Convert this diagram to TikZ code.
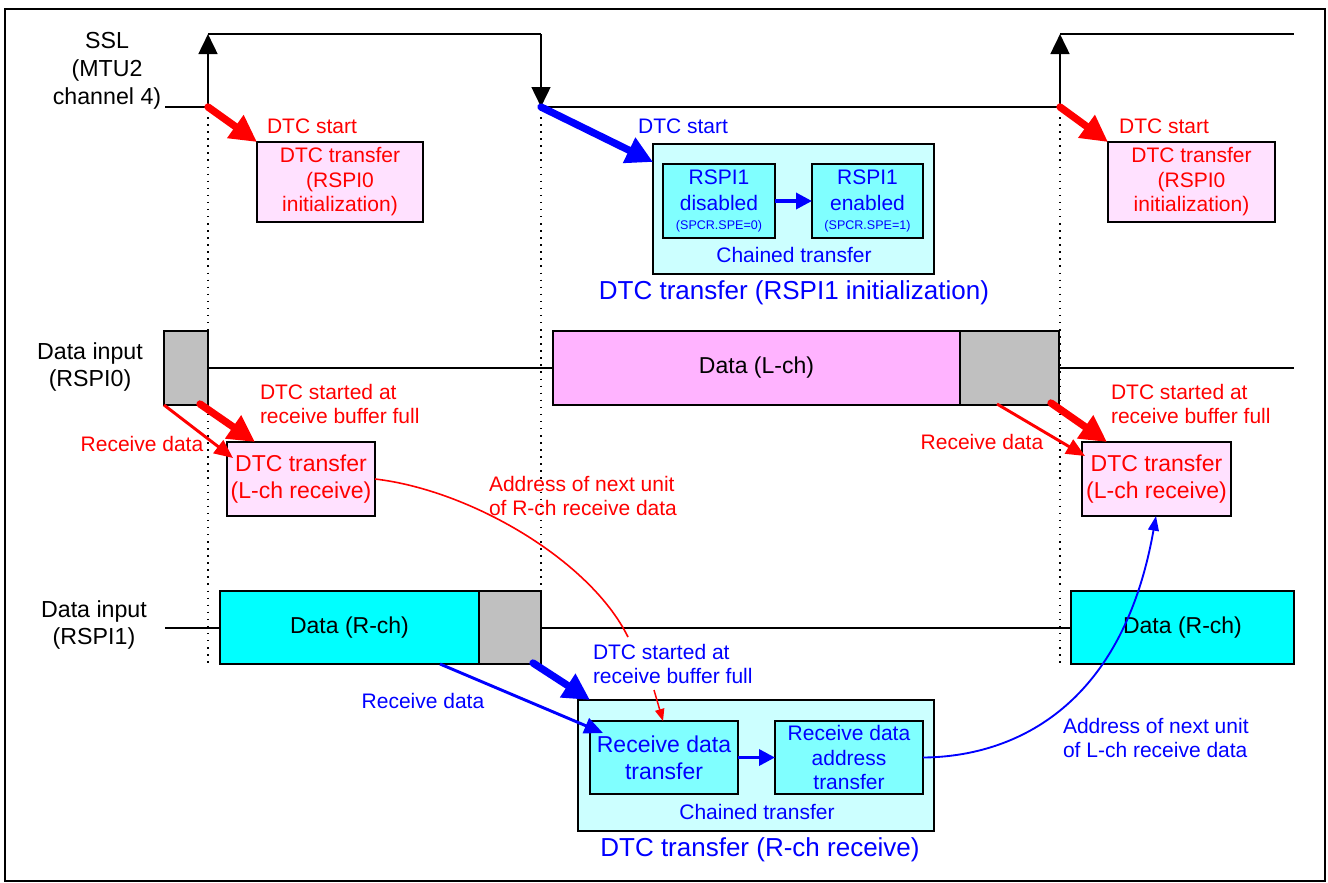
\documentclass[tikz,border=0pt]{standalone}
\usepackage{fontspec}
\setmainfont{Liberation Sans}
\usetikzlibrary{arrows.meta,calc}
\definecolor{pinkl}{HTML}{FFE1FF}
\definecolor{pinkd}{HTML}{FFB3FF}
\definecolor{cyanl}{HTML}{CCFFFF}
\definecolor{cyanm}{HTML}{80FFFF}
\definecolor{grayb}{HTML}{C0C0C0}
\definecolor{cyanf}{HTML}{00FFFF}
\begin{document}
\begin{tikzpicture}[x=0.75pt,y=-0.75pt,
  every node/.style={inner sep=0pt, outer sep=0pt},
  fa/.style={font=\fontsize{15.75}{18.4}\selectfont},
  fb/.style={font=\fontsize{17.25}{20.25}\selectfont},
  fc/.style={font=\fontsize{19.5}{23}\selectfont},
  lab/.style={font=\fontsize{17.4}{20.8}\selectfont, align=center},
  boxst/.style={draw=black, line width=1.4pt, align=center},
  sz/.style 2 args={minimum width=#1pt, minimum height=#2pt},
  sig/.style={line width=2pt, line join=miter},
  sigarr/.style={line width=2pt, -{Triangle[length=15pt,width=14pt]}},
  dline/.style={line width=1.5pt},
  vdot/.style={line width=1.1pt, dash pattern=on 1.1pt off 4.2pt},
  bigarr/.style={line width=5.5pt, line cap=round, -{Triangle[length=20pt,width=20pt]}},
  thinarr/.style={line width=2.2pt, -{Triangle[length=14pt,width=12pt]}},
  midarr/.style={line width=2.6pt, -{Triangle[length=12pt,width=12pt]}},
  smallarr/.style={line width=1.1pt, -{Triangle[length=9pt,width=7pt]}},
  curvearr/.style={line width=1.4pt, -{Triangle[length=11pt,width=8pt]}}
]
\useasboundingbox (0,0) rectangle (1328,882);
\fill[white] (0,0) rectangle (1328,882);

% dotted guide lines
\draw[vdot] (208,110) -- (208,665);
\draw[vdot] (541,110) -- (541,590);
\draw[vdot] (1060,110) -- (1060,665);

% frame
\draw[line width=1.5pt] (5,9) rectangle (1325,881);

% SSL waveform
\coordinate (s0) at (165,107);
\coordinate (e1) at (208,107);
\coordinate (h1) at (208,34);
\coordinate (h2) at (541,34);
\coordinate (e2) at (541,107);
\coordinate (e3) at (1060,107);
\coordinate (h3) at (1060,34);
\coordinate (h4) at (1294,34);
\draw[sig] (s0) -- (e1);
\draw[sigarr] (e1) -- (h1);
\draw[sig] (h1) -- (h2);
\draw[sigarr] (h2) -- (e2);
\draw[sig] (e2) -- (e3);
\draw[sigarr] (e3) -- (h3);
\draw[sig] (h3) -- (h4);

\node[lab] (ssl) at (107,71) {SSL\\(MTU2\\channel 4)};

% top boxes
\node[boxst, fill=pinkl, text=red, fa, sz={124.5}{60}] (init0a) at (340,182) {DTC transfer\\(RSPI0\\initialization)};
\node[boxst, fill=pinkl, text=red, fa, sz={125.25}{60}] (init0b) at (1191.5,182) {DTC transfer\\(RSPI0\\initialization)};

\node[boxst, fill=cyanl, sz={210.75}{97.5}] (init1) at (793.5,209) {};
\node[boxst, fill=cyanm, text=blue, font=\fontsize{15.75}{19.5}\selectfont, sz={84}{55.5}] (ia) at (719,201) {RSPI1\\disabled\\[-5.5pt]{\fontsize{9.4}{11}\selectfont (SPCR.SPE=0)}};
\node[boxst, fill=cyanm, text=blue, font=\fontsize{15.75}{19.5}\selectfont, sz={83.25}{55.5}] (ib) at (867.5,201) {RSPI1\\enabled\\[-5.5pt]{\fontsize{9.4}{11}\selectfont (SPCR.SPE=1)}};
\node[fa, text=blue] (ch1) at (794,255) {Chained transfer};
\node[fc, text=blue] (t1) at (794,293) {DTC transfer (RSPI1 initialization)};
\draw[midarr, blue] (ia.east) -- (ib.west);

% top DTC start arrows
\coordinate (bt1) at (653,162);
\draw[bigarr, red] (e1) -- (init0a.north west);
\draw[bigarr, blue] (e2) -- (bt1);
\draw[bigarr, red] (e3) -- (init0b.north west);
\node[fa, text=red] (ds1) at (312,126) {DTC start};
\node[fa, text=blue] (ds2) at (683,126) {DTC start};
\node[fa, text=red] (ds3) at (1164,126) {DTC start};

% row 2: data input RSPI0
\node[lab] (di0) at (90,367) {Data input\\(RSPI0)};
\draw[dline] (208,368) -- (553,368);
\draw[dline] (1059,368) -- (1294,368);
\node[boxst, fill=grayb, sz={33}{55.5}] (g0) at (186,368) {};
\node[boxst, fill=pinkd, fb, sz={305.25}{55.5}] (dl) at (756.5,368) {Data (L-ch)};
\node[boxst, fill=grayb, sz={74.25}{55.5}] (g1) at (1009.5,368) {};

\node[boxst, fill=pinkl, text=red, fb, sz={111}{55.5}] (lra) at (301,479) {DTC transfer\\(L-ch receive)};
\node[boxst, fill=pinkl, text=red, fb, sz={111.75}{55.5}] (lrb) at (1156.5,479) {DTC transfer\\(L-ch receive)};

\coordinate (ra1) at (200,404);
\coordinate (ra1t) at (255,442);
\coordinate (ra2) at (233,458);
\coordinate (rb1) at (1051,403);
\coordinate (rb1t) at (1107,442);
\coordinate (rb2s) at (997,404);
\coordinate (rb2) at (1085,456);
\draw[thinarr, red] (g0.south west) -- (ra2);
\draw[bigarr, red] (ra1) -- (ra1t);
\draw[thinarr, red] (rb2s) -- (rb2);
\draw[bigarr, red] (rb1) -- (rb1t);

\node[fa, text=red, align=left, anchor=west] (dsa) at (260,404) {DTC started at\\receive buffer full};
\node[fa, text=red, align=left, anchor=west] (dsb) at (1111,404) {DTC started at\\receive buffer full};
\node[fa, text=red] (rda) at (142,444) {Receive data};
\node[fa, text=red] (rdb) at (982,442) {Receive data};

% row 3: data input RSPI1
\node[lab] (di1) at (94,625) {Data input\\(RSPI1)};
\draw[dline] (165,628) -- (220,628);
\draw[dline] (541,628) -- (1071,628);
\node[boxst, fill=cyanf, fb, sz={194.25}{54.75}] (dra) at (349.5,627.5) {Data (R-ch)};
\node[boxst, fill=grayb, sz={46.5}{54.75}] (g2) at (510,627.5) {};
\node[boxst, fill=cyanf, fb, sz={167.25}{54.75}] (drb) at (1182.5,627.5) {Data (R-ch)};

% bottom box
\node[boxst, fill=cyanl, sz={267}{98.25}] (rrx) at (756,765.5) {};
\node[boxst, fill=cyanm, text=blue, fb, sz={111}{54.75}] (ra) at (664,757.5) {Receive data\\transfer};
\node[boxst, fill=cyanm, text=blue, fa, sz={111}{54.75}] (rb) at (849,757.5) {Receive data\\address\\transfer};
\node[fa, text=blue] (ch2) at (757,812) {Chained transfer};
\node[fc, text=blue] (t2) at (760,850) {DTC transfer (R-ch receive)};
\draw[midarr, blue] (ra.east) -- (rb.west);

\coordinate (bb1) at (533,663);
\coordinate (bb1t) at (590,700);
\coordinate (bbs) at (440,664);
\coordinate (bbt) at (603,733);
\draw[bigarr, blue] (bb1) -- (bb1t);
\draw[thinarr, blue] (bbs) -- (bbt);
\node[fa, text=blue] (rdc) at (423,701) {Receive data};
\node[fa, text=blue, align=left, anchor=west] (dsc) at (593,664) {DTC started at\\receive buffer full};

% red curve and small arrow
\coordinate (rc) at (628,637);
\draw[red, line width=1.2pt] (lra.east) .. controls (470,490) and (590,560) .. (rc);
\coordinate (rs) at (654,690);
\coordinate (rst) at (663,721);
\draw[smallarr, red] (rs) -- (rst);
\node[fa, text=red, align=left, anchor=west] (adr) at (489,496) {Address of next unit\\of R-ch receive data};

% blue curve
\coordinate (bct) at (1156,516);
\draw[curvearr, blue] (rb.east) .. controls (1000,757) and (1120,720) .. (bct);
\node[fa, text=blue, align=left, anchor=west] (adl) at (1063,738) {Address of next unit\\of L-ch receive data};
\end{tikzpicture}
\end{document}
